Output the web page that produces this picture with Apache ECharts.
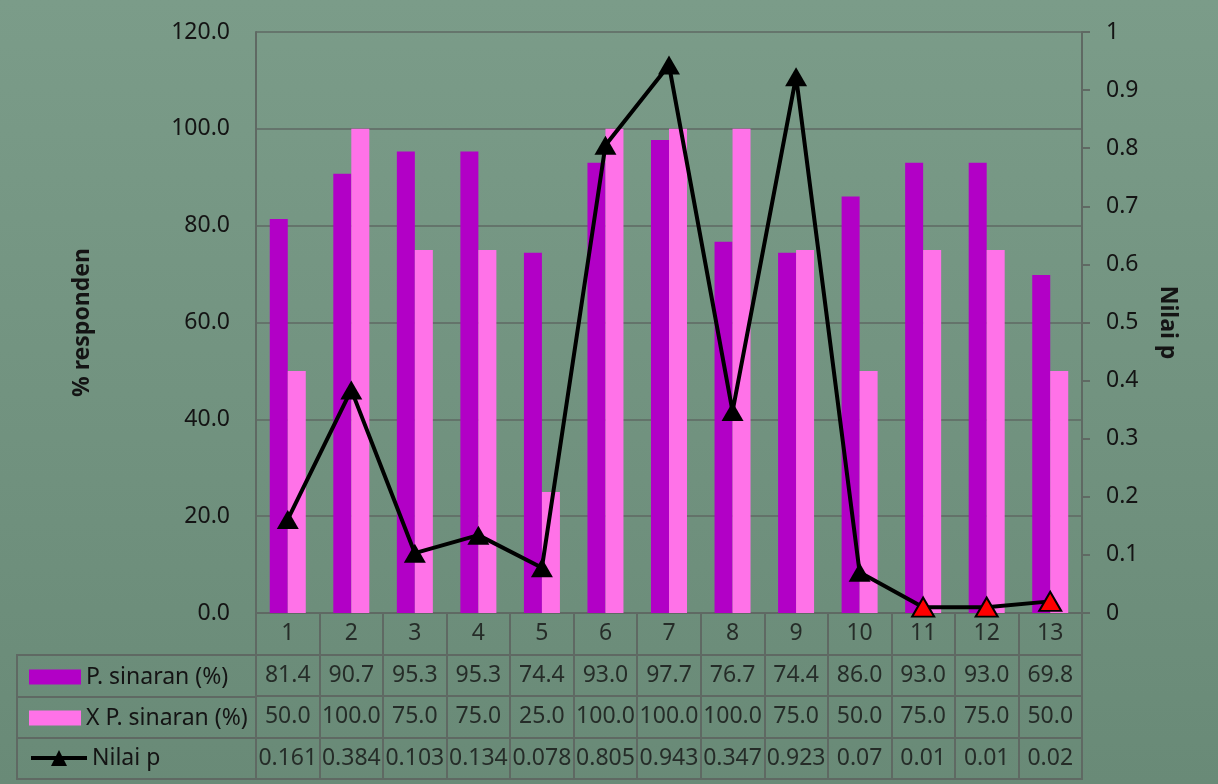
<!DOCTYPE html>
<html>
<head>
<meta charset="utf-8">
<script src="https://cdn.jsdelivr.net/npm/echarts@6/dist/echarts.min.js"></script>
<style>
  html, body { margin: 0; padding: 0; }
  #chart { width: 1218px; height: 784px; }
</style>
</head>
<body>
<div id="chart"></div>
<script>
// Categories and series values
const categories = ['1', '2', '3', '4', '5', '6', '7', '8', '9', '10', '11', '12', '13'];
const pSinaran = [81.4, 90.7, 95.3, 95.3, 74.4, 93.0, 97.7, 76.7, 74.4, 86.0, 93.0, 93.0, 69.8];
const xpSinaran = [50.0, 100.0, 75.0, 75.0, 25.0, 100.0, 100.0, 100.0, 75.0, 50.0, 75.0, 75.0, 50.0];
const nilaiP = [0.161, 0.384, 0.103, 0.134, 0.078, 0.805, 0.943, 0.347, 0.923, 0.07, 0.01, 0.01, 0.02];
const seriesNames = ['P. sinaran (%)', 'X P. sinaran (%)', 'Nilai p'];
const leftTicks = { min: 0, max: 120, interval: 20 };
const rightTicks = { min: 0, max: 1, interval: 0.1 };

const FONT = '"Noto Sans", "Open Sans", sans-serif';
const FS = 23;
const TEXT = '#141414';
const LINE = '#5f6963';
const PURPLE = '#B200C6';
const PINK = '#FF72E8';

// Rows of the data table under the plot
const tableRows = ['cat', 'r1', 'r2', 'r3'];
const tableCells = [];
categories.forEach((c, i) => {
  tableCells.push({ value: [i, 0], label: { formatter: c } });
  tableCells.push({ value: [i, 1], label: { formatter: pSinaran[i].toFixed(1) } });
  tableCells.push({ value: [i, 2], label: { formatter: xpSinaran[i].toFixed(1) } });
  tableCells.push({ value: [i, 3], label: { formatter: String(nilaiP[i]) } });
});

const chart = echarts.init(document.getElementById('chart'), null, { renderer: 'canvas' });

const legendBase = {
  left: 24,
  orient: 'horizontal',
  itemWidth: 52,
  itemHeight: 15,
  selectedMode: false,
  textStyle: { fontFamily: FONT, fontSize: FS, color: TEXT, lineHeight: 26 }
};

chart.setOption({
  backgroundColor: {
    type: 'linear', x: 0, y: 0, x2: 0, y2: 1,
    colorStops: [{ offset: 0, color: '#7b9c89' }, { offset: 1, color: '#698a77' }]
  },
  animation: false,
  textStyle: { fontFamily: FONT },
  legend: [
    Object.assign({}, legendBase, { top: 659, data: [{ name: seriesNames[0], icon: 'rect' }] }),
    Object.assign({}, legendBase, { top: 700, data: [{ name: seriesNames[1], icon: 'rect' }] }),
    Object.assign({}, legendBase, {
      top: 740, itemWidth: 56, itemHeight: 20,
      lineStyle: { width: 4, color: '#000' },
      data: [{ name: seriesNames[2] }]
    })
  ],
  grid: [
    { left: 256, right: 136, top: 32, bottom: 171 },
    { left: 256, right: 136, top: 613, bottom: 5, show: true, borderColor: LINE, borderWidth: 2 },
    { left: 17, width: 239, top: 655, bottom: 5, show: true, borderColor: LINE, borderWidth: 2 }
  ],
  xAxis: [
    {
      gridIndex: 0, type: 'category', data: categories,
      axisLine: { lineStyle: { color: LINE, width: 2 } },
      axisTick: { show: false }, axisLabel: { show: false }
    },
    {
      gridIndex: 1, type: 'category', data: categories,
      axisLine: { show: false }, axisTick: { show: false }, axisLabel: { show: false },
      splitLine: { show: true, interval: 0, lineStyle: { color: LINE, width: 2 } }
    },
    { gridIndex: 2, type: 'category', data: ['a'], show: false }
  ],
  yAxis: [
    {
      gridIndex: 0, type: 'value', min: leftTicks.min, max: leftTicks.max, interval: leftTicks.interval,
      name: '% responden', nameLocation: 'middle', nameRotate: 90, nameGap: 162,
      nameTextStyle: { fontFamily: FONT, fontSize: FS, fontWeight: 'bold', color: TEXT },
      axisLine: { show: true, lineStyle: { color: LINE, width: 2 } },
      axisTick: { show: false },
      axisLabel: { fontFamily: FONT, fontSize: FS, color: TEXT, margin: 26, formatter: v => v.toFixed(1) },
      splitLine: { lineStyle: { color: LINE, width: 1.5 } }
    },
    {
      gridIndex: 0, type: 'value', position: 'right', min: rightTicks.min, max: rightTicks.max, interval: rightTicks.interval,
      name: 'Nilai p', nameLocation: 'middle', nameRotate: -90, nameGap: 74,
      nameTextStyle: { fontFamily: FONT, fontSize: FS, fontWeight: 'bold', color: TEXT },
      axisLine: { show: true, lineStyle: { color: LINE, width: 2 } },
      axisTick: { show: true, length: 8, lineStyle: { color: LINE, width: 2 } },
      axisLabel: { fontFamily: FONT, fontSize: FS, color: TEXT, margin: 24, formatter: v => String(parseFloat(v.toFixed(1))) },
      splitLine: { show: false }
    },
    {
      gridIndex: 1, type: 'category', data: tableRows, inverse: true,
      axisLine: { show: false }, axisTick: { show: false }, axisLabel: { show: false },
      splitLine: { show: true, interval: 0, lineStyle: { color: LINE, width: 2 } }
    },
    {
      gridIndex: 2, type: 'category', data: tableRows.slice(1), inverse: true,
      axisLine: { show: false }, axisTick: { show: false }, axisLabel: { show: false },
      splitLine: { show: true, interval: 0, lineStyle: { color: LINE, width: 2 } }
    }
  ],
  series: [
    {
      name: seriesNames[0], type: 'bar', xAxisIndex: 0, yAxisIndex: 0,
      data: pSinaran, barWidth: 18, barGap: '0%',
      itemStyle: { color: PURPLE }
    },
    {
      name: seriesNames[1], type: 'bar', xAxisIndex: 0, yAxisIndex: 0,
      data: xpSinaran, barWidth: 18, barGap: '0%',
      itemStyle: { color: PINK }
    },
    {
      name: seriesNames[2], type: 'line', xAxisIndex: 0, yAxisIndex: 1,
      data: nilaiP.map(v => v < 0.05
        ? { value: v, itemStyle: { color: '#FF0000', borderColor: '#000', borderWidth: 2 } }
        : v),
      symbol: 'triangle', symbolSize: [22, 19],
      lineStyle: { color: '#000', width: 4 },
      itemStyle: { color: '#000' },
      z: 5
    },
    {
      name: 'table', type: 'scatter', xAxisIndex: 1, yAxisIndex: 2,
      data: tableCells, symbolSize: 0, silent: true,
      label: { show: true, position: 'inside', fontFamily: FONT, fontSize: FS, color: TEXT }
    }
  ]
});
</script>
</body>
</html>
